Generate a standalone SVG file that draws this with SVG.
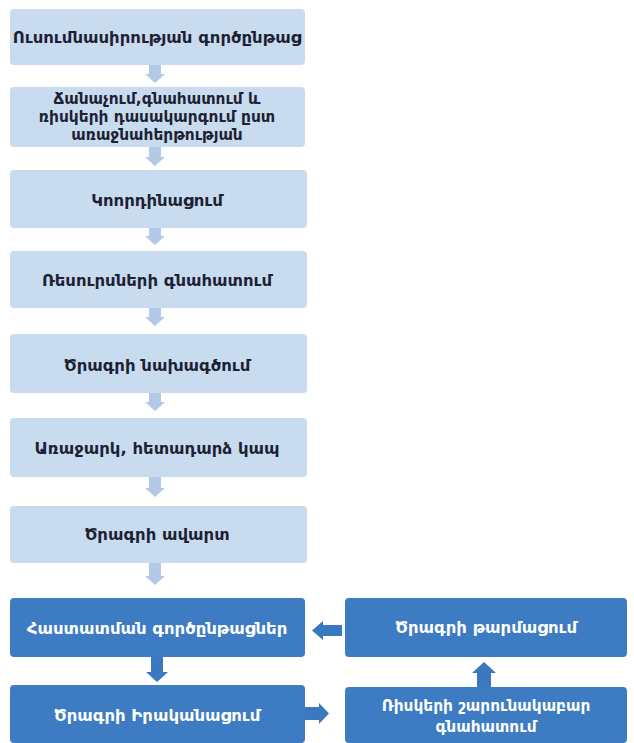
<svg xmlns="http://www.w3.org/2000/svg" width="634" height="743" viewBox="0 0 634 743">
<style>
.lb{fill:#c9dbee;}
.db{fill:#3d7cc2;}
.la{fill:#b4c9e5;}
.da{fill:#3a78bf;}
text{font-family:"DejaVu Sans","Noto Sans",sans-serif;font-weight:bold;font-size:16.5px;text-anchor:middle;dominant-baseline:central;}
text.sm{font-size:15.4px;}
.lt{fill:#1c2233;}
.dt{fill:#ffffff;}
</style>
<rect width="634" height="743" fill="#ffffff"/>
<g id="connectors">
<polygon class="la" points="149,65 161,65 161,74 165,74 155,83 145,74 149,74"/>
<polygon class="la" points="149,147 161,147 161,157 165,157 155,166 145,157 149,157"/>
<polygon class="la" points="149,228 161,228 161,236 165,236 155,245 145,236 149,236"/>
<polygon class="la" points="149,308 161,308 161,317 165,317 155,326 145,317 149,317"/>
<polygon class="la" points="149,393 161,393 161,402 165,402 155,411 145,402 149,402"/>
<polygon class="la" points="149,477 161,477 161,488 165,488 155,497 145,488 149,488"/>
<polygon class="la" points="149,563 161,563 161,576 165,576 155,585 145,576 149,576"/>
<polygon class="da" points="151,657 163,657 163,672 168,672 157,682 146,672 151,672"/>
<polygon class="da" points="342,625 342,636 323,636 323,640 312,630.5 323,621 323,625"/>
<polygon class="da" points="477,687 491,687 491,673 496,673 484,662 472,673 477,673"/>
<polygon class="da" points="305,707 319,707 319,703 329,713.5 319,724 319,720 305,720"/>
</g>
<g id="n1"><rect class="lb" x="10" y="9" width="295" height="56" rx="4"/><text class="lt" x="157" y="37">Ուսումնասիրության գործընթաց</text></g>
<g id="n2"><rect class="lb" x="10" y="87" width="295" height="60" rx="4"/><text class="lt sm" x="157" y="99">Ճանաչում,գնահատում և</text><text class="lt sm" x="157" y="117">ռիսկերի դասակարգում ըստ</text><text class="lt sm" x="157" y="135">առաջնահերթության</text></g>
<g id="n3"><rect class="lb" x="10" y="170" width="297" height="58" rx="4"/><text class="lt" x="157" y="200">Կոորդինացում</text></g>
<g id="n4"><rect class="lb" x="10" y="251" width="297" height="57" rx="4"/><text class="lt" x="157" y="280">Ռեսուրսների գնահատում</text></g>
<g id="n5"><rect class="lb" x="10" y="334" width="297" height="59" rx="4"/><text class="lt" x="157" y="365">Ծրագրի նախագծում</text></g>
<g id="n6"><rect class="lb" x="10" y="418" width="297" height="59" rx="4"/><text class="lt" x="157" y="448">Առաջարկ, հետադարձ կապ</text></g>
<g id="n7"><rect class="lb" x="10" y="506" width="297" height="57" rx="4"/><text class="lt" x="157" y="534">Ծրագրի ավարտ</text></g>
<g id="n8"><rect class="db" x="10" y="598" width="295" height="59" rx="4"/><text class="dt" x="157" y="628">Հաստատման գործընթացներ</text></g>
<g id="n9"><rect class="db" x="10" y="685" width="295" height="58" rx="4"/><text class="dt" x="157" y="715">Ծրագրի Իրականացում</text></g>
<g id="n10"><rect class="db" x="345" y="598" width="282" height="59" rx="4"/><text class="dt" x="486" y="627">Ծրագրի թարմացում</text></g>
<g id="n11"><rect class="db" x="345" y="687" width="282" height="56" rx="4"/><text class="dt sm" x="486" y="706">Ռիսկերի շարունակաբար</text><text class="dt sm" x="486" y="727">գնահատում</text></g>
</svg>
